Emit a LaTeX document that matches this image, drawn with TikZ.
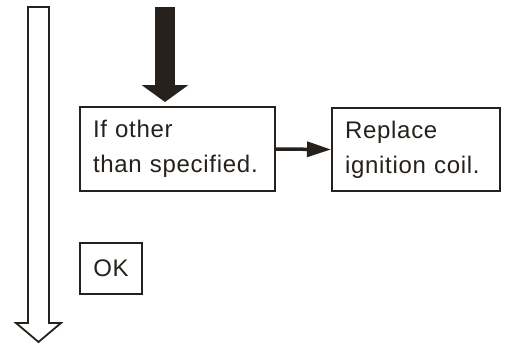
\documentclass[tikz,border=0pt]{standalone}
\usepackage{fontspec}
\setmainfont{Liberation Sans}[LetterSpace=3]
\usetikzlibrary{arrows.meta,calc}
\definecolor{inkdark}{RGB}{38,33,28}
\tikzset{
  step-box/.style={
    draw=inkdark,
    line width=2pt,
    fill=white,
    inner sep=0pt,
    font=\fontsize{24}{35}\selectfont,
    text=inkdark
  },
  text-box/.style={
    step-box,
    align=left
  },
  flow-black/.style={
    draw=inkdark,
    line width=20pt,
    -{Triangle[length=17pt,width=46pt]}
  },
  flow-thin/.style={
    draw=inkdark,
    line width=3.5pt,
    -{Triangle[length=24pt,width=15pt]}
  },
  flow-hollow/.style={
    draw=inkdark,
    fill=white,
    line width=1.8pt,
    line join=miter
  }
}
\begin{document}
\begin{tikzpicture}[x=1pt,y=-1pt]
  \useasboundingbox (0,0) rectangle (506,345);
  % Boxes
  \node[text-box, minimum width=195pt, minimum height=84pt, text width=169pt]
    (check) at (177.5,149) {If other\\than specified.};
  \node[text-box, minimum width=168pt, minimum height=83pt, text width=142pt]
    (coil) at (416,149.5) {Replace\\ignition coil.};
  \node[step-box, minimum width=62pt, minimum height=51pt]
    (ok) at (111,268) {OK};
  % Entry arrow
  \coordinate (entry) at (165,7);
  \draw[flow-black, shorten >=4pt] (entry) -- (entry |- check.north);
  % Arrow to coil
  \draw[flow-thin] (check.east) -- (coil.west);
  % Hollow arrow on the left
  \draw[flow-hollow] (28,7) -- (49,7) -- (49,323) -- (61,323) -- (38.5,342)
    -- (16,323) -- (28,323) -- cycle;
\end{tikzpicture}
\end{document}
